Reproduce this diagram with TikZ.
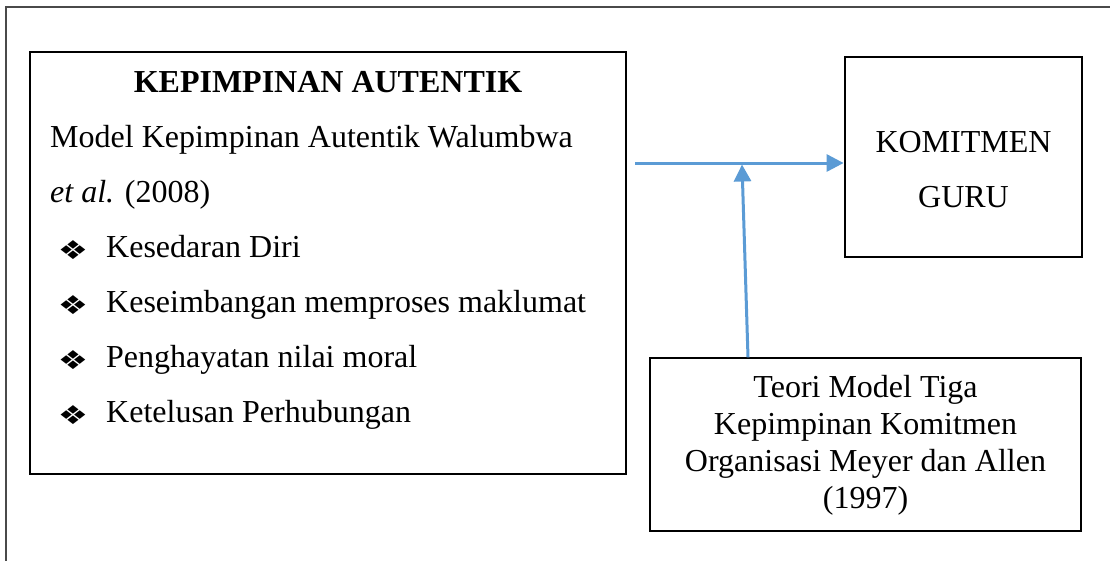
\documentclass[tikz,border=0pt]{standalone}
\usepackage{fontspec}
\setmainfont{Liberation Serif}
\newfontfamily\symfont{DejaVu Sans}
\usetikzlibrary{arrows.meta}
\definecolor{arrowblue}{HTML}{5B9BD5}
\definecolor{framegray}{HTML}{4A4A4A}
\tikzset{
  txt/.style={inner sep=0pt, font=\fontsize{32}{38}\selectfont},
  thinbox/.style={draw=black, line width=1.4pt, inner sep=0pt},
  thickbox/.style={draw=black, line width=2.8pt, inner sep=0pt},
  conn/.style={draw=arrowblue, line width=3pt, -{Triangle[length=17pt,width=17pt]}},
  bul/.style={inner sep=0pt, font=\symfont\fontsize{26}{26}\selectfont, xscale=1.3},
}
\begin{document}
\begin{tikzpicture}[x=1pt,y=-1pt]
\useasboundingbox (0,0) rectangle (1110,560);
% outer frame (only top and left edges visible)
\draw[framegray, line width=2pt] (6,580) -- (6,7) -- (1130,7);

% left box
\node[thinbox, minimum width=596pt, minimum height=422pt] (auth) at (328,263) {};
\node[txt, anchor=base, font=\fontsize{32}{38}\selectfont\bfseries] (title) at (328,92) {KEPIMPINAN AUTENTIK};
\node[txt, anchor=base west] (model) at (50,147) {Model Kepimpinan Autentik Walumbwa};
\node[txt, anchor=base west] (etal) at (50,202) {\textit{et al.} (2008)};
\node[bul] (b1) at (73,250) {❖};
\node[bul] (b2) at (73,305) {❖};
\node[bul] (b3) at (73,360) {❖};
\node[bul] (b4) at (73,415) {❖};
\node[txt, anchor=base west] (i1) at (106,257) {Kesedaran Diri};
\node[txt, anchor=base west] (i2) at (106,312) {Keseimbangan memproses maklumat};
\node[txt, anchor=base west] (i3) at (106,367) {Penghayatan nilai moral};
\node[txt, anchor=base west] (i4) at (106,422) {Ketelusan Perhubungan};

% komitmen box
\node[thickbox, minimum width=237pt, minimum height=200pt] (kom) at (963.5,157) {};
\node[txt, anchor=base] (kom1) at (963.5,152) {KOMITMEN};
\node[txt, anchor=base] (kom2) at (963.5,207) {GURU};

% teori box
\node[thinbox, minimum width=431pt, minimum height=173pt] (teori) at (865.5,444.5) {};
\node[txt, anchor=base] (t1) at (865.5,397) {Teori Model Tiga};
\node[txt, anchor=base] (t2) at (865.5,434) {Kepimpinan Komitmen};
\node[txt, anchor=base] (t3) at (865.5,471) {Organisasi Meyer dan Allen};
\node[txt, anchor=base] (t4) at (865.5,508) {(1997)};

% connectors
\coordinate (hstart) at (635,163);
\coordinate (junction) at (742,164.5);
\draw[conn] (hstart) -- (hstart -| kom.west);
\draw[conn] ([xshift=-117.5pt]teori.north) -- (junction);
\end{tikzpicture}
\end{document}
